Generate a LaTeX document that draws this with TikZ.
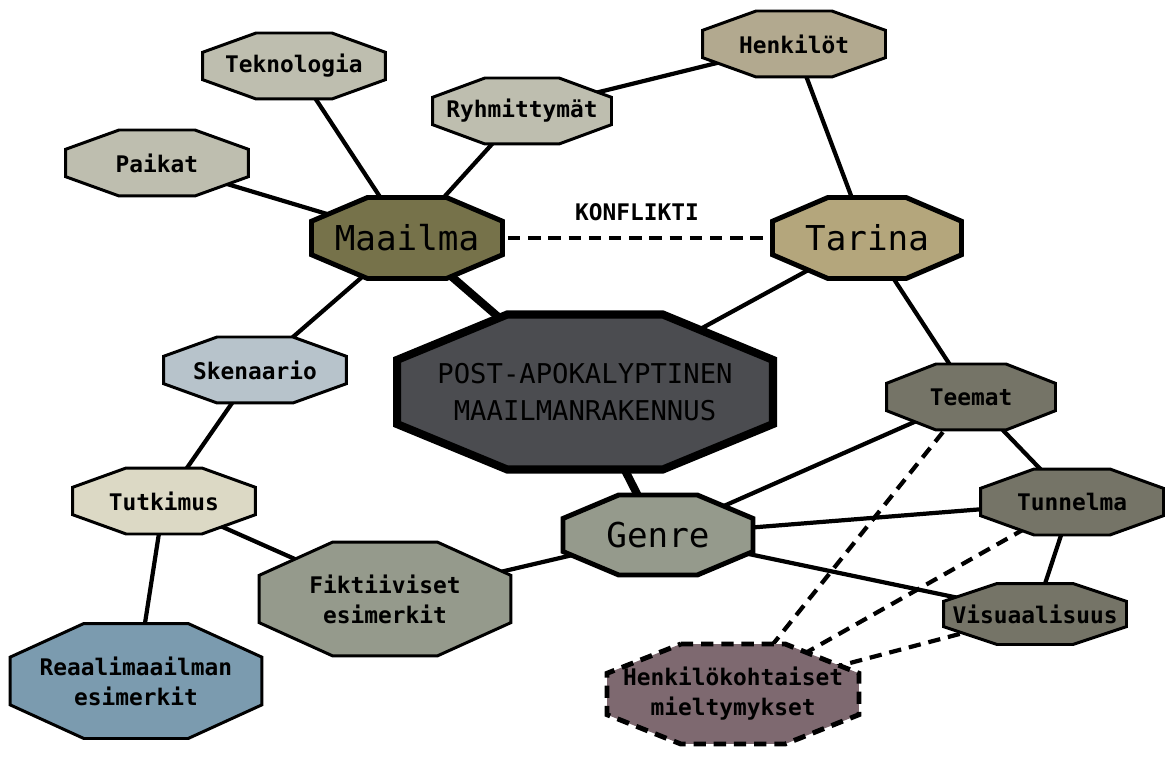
\documentclass[tikz,border=0pt]{standalone}
\usepackage{fontspec}
\setmonofont{DejaVu Sans Mono}
\usetikzlibrary{calc}

\definecolor{cHarmaa}{HTML}{BEBEAF}
\definecolor{cHenkilot}{HTML}{B2A98F}
\definecolor{cMaailma}{HTML}{76724A}
\definecolor{cTarina}{HTML}{B4A67C}
\definecolor{cYdin}{HTML}{4B4C50}
\definecolor{cSkenaario}{HTML}{B7C3CB}
\definecolor{cTutkimus}{HTML}{DCD9C5}
\definecolor{cGenre}{HTML}{959A8C}
\definecolor{cTeema}{HTML}{757467}
\definecolor{cReaali}{HTML}{7B9BAF}
\definecolor{cMieli}{HTML}{7E6970}

\pgfdeclarelayer{edges}
\pgfdeclarelayer{octs}
\pgfsetlayers{edges,octs,main}

% octagon drawn behind the text of a named node
\newcommand{\drawoct}[2]{%
  \begin{pgfonlayer}{octs}
    \path[#2]
      ($(#1.north west)!.293!(#1.north east)$) --
      ($(#1.north west)!.707!(#1.north east)$) --
      ($(#1.north east)!.293!(#1.south east)$) --
      ($(#1.north east)!.707!(#1.south east)$) --
      ($(#1.south east)!.293!(#1.south west)$) --
      ($(#1.south east)!.707!(#1.south west)$) --
      ($(#1.south west)!.293!(#1.north west)$) --
      ($(#1.south west)!.707!(#1.north west)$) -- cycle;
  \end{pgfonlayer}}

\begin{document}
\begin{tikzpicture}[
x=0.02cm, y=-0.02cm,
box/.style={
    inner sep=0pt,
    outer sep=0pt,
    align=center
},
minor/.style={
    box,
    font=\ttfamily\bfseries\fontsize{13}{17}\selectfont,
    minimum width=3.66cm,
    minimum height=1.32cm
},
twoline/.style={
    box,
    font=\ttfamily\bfseries\fontsize{13}{17}\selectfont,
    minimum width=5.04cm,
    minimum height=2.28cm
},
major/.style={
    box,
    font=\ttfamily\fontsize{19.5}{22}\selectfont,
    minimum width=3.82cm,
    minimum height=1.62cm
},
hub/.style={
    box,
    font=\ttfamily\fontsize{15.5}{21}\selectfont,
    minimum width=7.52cm,
    minimum height=3.1cm
},
thinoct/.style={draw=black, line width=1.7pt},
thickoct/.style={draw=black, line width=2.8pt},
link/.style={line width=2.4pt},
heavy/.style={line width=4.6pt},
pref/.style={line width=2.4pt, dash pattern=on 7pt off 4.5pt}
]
\useasboundingbox (0,0) rectangle (1168,759);

\node (teknologia) [minor] at (294,66) {Teknologia};
\node (paikat) [minor] at (157,163) {Paikat};
\node (ryhmat) [minor, minimum width=3.58cm] at (522,111) {Ryhmittymät};
\node (henkilot) [minor] at (794,44) {Henkilöt};
\node (maailma) [major] at (407,238) {Maailma};
\node (tarina) [major, minimum width=3.78cm] at (867,238) {Tarina};
\node (ydin) [hub] at (585,392) {POST-APOKALYPTINEN\\MAAILMANRAKENNUS};
\node (skenaario) [minor] at (255,370) {Skenaario};
\node (tutkimus) [minor] at (164,501) {Tutkimus};
\node (teemat) [minor, minimum width=3.38cm] at (971,397) {Teemat};
\node (tunnelma) [minor] at (1072,502) {Tunnelma};
\node (genre) [major, minimum width=3.8cm, minimum height=1.6cm] at (658,535) {Genre};
\node (fiktiiviset) [twoline] at (385,599) {Fiktiiviset\\esimerkit};
\node (visuaalisuus) [minor, minimum height=1.22cm] at (1035,614) {Visuaalisuus};
\node (reaali) [twoline, minimum height=2.3cm] at (136,681) {Reaalimaailman\\esimerkit};
\node (mieltymykset) [twoline, minimum height=2cm] at (733,694) {Henkilökohtaiset\\mieltymykset};

\drawoct{teknologia}{thinoct, fill=cHarmaa}
\drawoct{paikat}{thinoct, fill=cHarmaa}
\drawoct{ryhmat}{thinoct, fill=cHarmaa}
\drawoct{henkilot}{thinoct, fill=cHenkilot}
\drawoct{maailma}{thickoct, fill=cMaailma}
\drawoct{tarina}{thickoct, fill=cTarina}
\drawoct{ydin}{draw=black, line width=4.6pt, fill=cYdin}
\drawoct{skenaario}{thinoct, fill=cSkenaario}
\drawoct{tutkimus}{thinoct, fill=cTutkimus}
\drawoct{teemat}{thinoct, fill=cTeema}
\drawoct{tunnelma}{thinoct, fill=cTeema}
\drawoct{genre}{thickoct, fill=cGenre}
\drawoct{fiktiiviset}{thinoct, fill=cGenre}
\drawoct{visuaalisuus}{thinoct, fill=cTeema}
\drawoct{reaali}{thinoct, fill=cReaali}
\drawoct{mieltymykset}{draw=black, line width=2.8pt, dash pattern=on 7pt off 4.5pt, fill=cMieli}

\begin{pgfonlayer}{edges}
\draw [link] (teknologia.center) -- (maailma.center);
\draw [link] (paikat.center) -- (maailma.center);
\draw [link] (ryhmat.center) -- (maailma.center);
\draw [link] (henkilot.center) -- (ryhmat.center);
\draw [link] (henkilot.center) -- (tarina.center);
\draw [pref] (maailma.center) -- node (konflikti) [above=5pt, font=\ttfamily\bfseries\fontsize{13}{15}\selectfont] {KONFLIKTI} (tarina.center);
\draw [heavy] (maailma.center) -- (ydin.center);
\draw [link] (tarina.center) -- (ydin.center);
\draw [link] (maailma.center) -- (skenaario.center);
\draw [link] (tarina.center) -- (teemat.center);
\draw [heavy] (ydin.center) -- (genre.center);
\draw [link] (skenaario.center) -- (tutkimus.center);
\draw [link] (tutkimus.center) -- (reaali.center);
\draw [link] (tutkimus.center) -- (fiktiiviset.center);
\draw [link] (fiktiiviset.center) -- (genre.center);
\draw [link] (genre.center) -- (teemat.center);
\draw [link] (genre.center) -- (tunnelma.center);
\draw [link] (genre.center) -- (visuaalisuus.center);
\draw [link] (teemat.center) -- (tunnelma.center);
\draw [link] (tunnelma.center) -- (visuaalisuus.center);
\draw [pref] (mieltymykset.center) -- (teemat.center);
\draw [pref] (mieltymykset.center) -- (tunnelma.center);
\draw [pref] (mieltymykset.center) -- (visuaalisuus.center);
\end{pgfonlayer}

\end{tikzpicture}
\end{document}
